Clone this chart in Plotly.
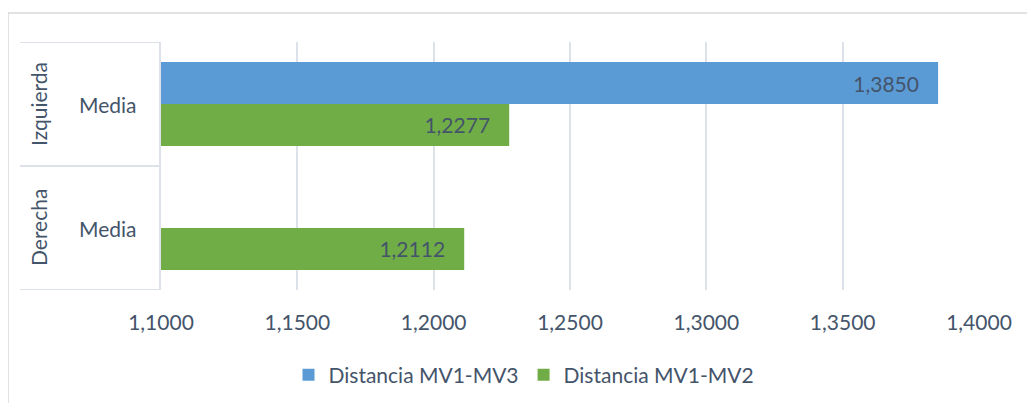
import plotly.graph_objects as go

groups = ["Izquierda", "Derecha"]
sub_label = ["Media", "Media"]
series_names = ["Distancia MV1-MV3", "Distancia MV1-MV2"]
mv1_mv3 = [1.3850, None]
mv1_mv2 = [1.2277, 1.2112]
x_ticks = [1.10, 1.15, 1.20, 1.25, 1.30, 1.35, 1.40]

FONT = "Lato"
TXT = "#44546A"
GRID = "#DDE2EA"
OFF = 8  # browser default body margin

fig = go.Figure()
fig.add_trace(go.Bar(
    y=groups, x=mv1_mv3, name=series_names[0], orientation="h",
    marker=dict(color="#5B9BD5", line=dict(width=0)),
    texttemplate="%{x:.4f}\u00a0\u00a0\u00a0", textposition="inside", insidetextanchor="end",
    textfont=dict(color=TXT, size=21, family=FONT),
))
fig.add_trace(go.Bar(
    y=groups, x=mv1_mv2, name=series_names[1], orientation="h",
    marker=dict(color="#70AD47", line=dict(width=0)),
    texttemplate="%{x:.4f}\u00a0\u00a0\u00a0", textposition="inside", insidetextanchor="end",
    textfont=dict(color=TXT, size=21, family=FONT),
))

W, H = 1035 - OFF, 403 - OFF
L, T = 161 - OFF, 42 - OFF
R = W - (979 - OFF)
B = H - (290 - OFF)
pw, ph = W - L - R, H - T - B

def px(xpix):
    return (xpix - OFF - L) / pw

def py(ypix):
    return 1 - (ypix - OFF - T) / ph

annotations = []
for g, s in zip(groups, sub_label):
    annotations.append(dict(x=px(108), y=g, xref="paper", yref="y", text=s,
                            showarrow=False, font=dict(family=FONT, size=21, color=TXT),
                            xanchor="center", yanchor="middle"))
    annotations.append(dict(x=px(38), y=g, xref="paper", yref="y", text=g,
                            textangle=-90, showarrow=False,
                            font=dict(family=FONT, size=21, color=TXT),
                            xanchor="center", yanchor="middle"))

shapes = []
for yv in [-0.5, 0.5, 1.5]:
    shapes.append(dict(type="line", xref="paper", yref="y", x0=px(20), x1=0,
                       y0=yv, y1=yv, line=dict(color=GRID, width=2)))
# outer chart border (left and top)
shapes.append(dict(type="line", xref="paper", yref="paper", x0=px(8), x1=px(8),
                   y0=py(13), y1=py(420), line=dict(color="#D9D9D9", width=1.5)))
shapes.append(dict(type="line", xref="paper", yref="paper", x0=px(8), x1=px(1050),
                   y0=py(13), y1=py(13), line=dict(color="#D9D9D9", width=1.5)))

fig.update_layout(
    width=W, height=H,
    margin=dict(l=L, r=R, t=T, b=B, autoexpand=False),
    paper_bgcolor="white", plot_bgcolor="white",
    separators=",.",
    barmode="group", bargap=0.323, bargroupgap=0,
    font=dict(family=FONT, size=21, color=TXT),
    showlegend=True,
    legend=dict(orientation="h", x=px(524), xanchor="center", y=py(375), yanchor="middle",
                font=dict(family=FONT, size=21, color=TXT)),
    annotations=annotations,
    shapes=shapes,
    xaxis=dict(range=[1.1, 1.4], tickvals=x_ticks, tickformat=".4f",
               showgrid=True, gridcolor=GRID, gridwidth=2, zeroline=False,
               showline=False, ticks="", ticklabelstandoff=18,
               tickfont=dict(family=FONT, size=21, color=TXT)),
    yaxis=dict(type="category", categoryorder="array", categoryarray=groups,
               range=[1.5, -0.5], showticklabels=False, showgrid=False,
               showline=True, linecolor=GRID, linewidth=2, ticks="", zeroline=False),
)

fig.write_html("out.html")
